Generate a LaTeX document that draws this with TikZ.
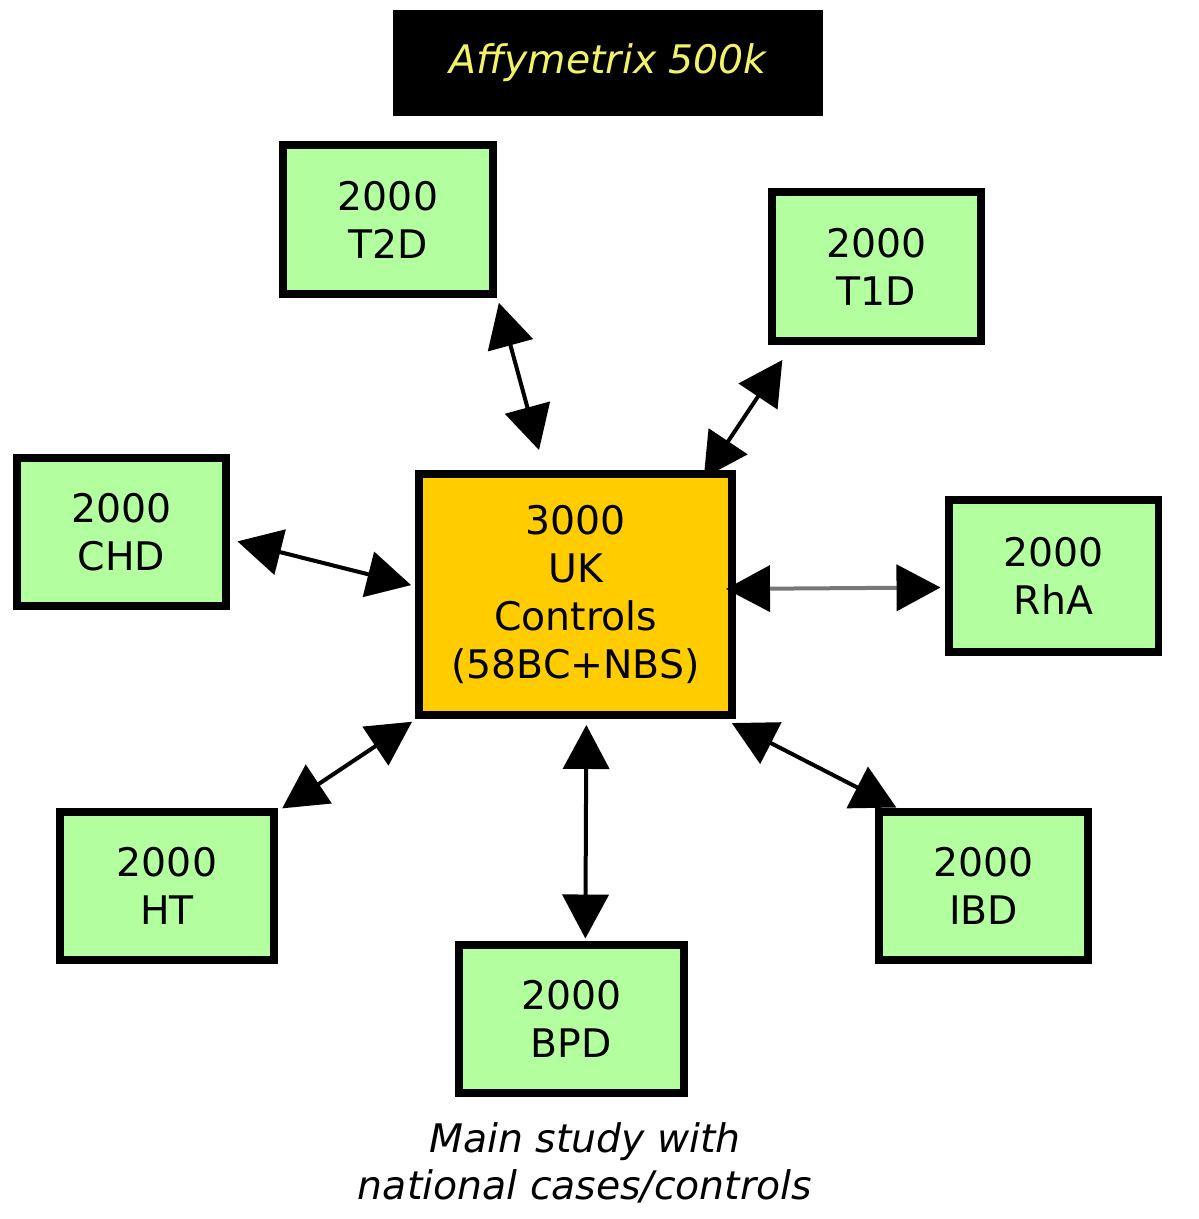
\documentclass[tikz,border=0pt]{standalone}
\usepackage{fontspec}
\setmainfont{DejaVu Sans}
\usepackage{tikz}
\usetikzlibrary{arrows.meta}
\definecolor{CaseGreen}{HTML}{B3FF9F}
\definecolor{CtrlGold}{HTML}{FFCC00}
\definecolor{TitleYellow}{HTML}{F2F266}
\definecolor{LinkGray}{HTML}{777777}

\begin{document}
\begin{tikzpicture}[
  x=0.02cm, y=-0.02cm,
  font=\fontsize{22.4}{27.3}\selectfont,
  % case cohort box
  cbox/.style={draw=black, fill=CaseGreen, line width=0.16cm,
               minimum width=4.2cm, minimum height=2.98cm,
               align=center, inner sep=0pt},
  % shared control box
  ctrlbox/.style={cbox, fill=CtrlGold,
                  minimum width=6.26cm, minimum height=4.82cm},
  % title banner
  banner/.style={fill=black, text=TitleYellow, font=\fontsize{22.4}{27.3}\selectfont\itshape,
                 minimum width=8.6cm, minimum height=2.12cm, inner sep=0pt},
  % double headed link
  link/.style={line width=0.08cm,
               {Triangle[length=0.88cm,width=0.92cm]}-{Triangle[length=0.88cm,width=0.92cm]}},
]
\useasboundingbox (0,0) rectangle (1198,1219);

%% ── Title ────────────────────────────────────────────────────────────────
\node[banner] (title) at (608,63) {Affymetrix 500k};

%% ── Controls ─────────────────────────────────────────────────────────────
\node[ctrlbox] (ctrl) at (575.5,594.5) {3000\\UK\\Controls\\(58BC+NBS)};

%% ── Case cohorts ─────────────────────────────────────────────────────────
\node[cbox] (t2d) at (388,219.5)   {2000\\T2D};
\node[cbox] (t1d) at (876.5,266.5) {2000\\T1D};
\node[cbox] (chd) at (121.5,532)   {2000\\CHD};
\node[cbox, minimum height=3.04cm] (rha) at (1053.5,576) {2000\\RhA};
\node[cbox, minimum width=4.28cm] (ht) at (167,886) {2000\\HT};
\node[cbox] (ibd) at (983.5,886)   {2000\\IBD};
\node[cbox, minimum width=4.5cm] (bpd) at (571.5,1019) {2000\\BPD};

%% ── Links ────────────────────────────────────────────────────────────────
\draw[link, shorten <=0.145cm, shorten >=0.414cm] (t2d.-35.6) -- (ctrl.104);
\draw[link, shorten <=0.36cm, shorten >=-0.19cm] (t1d.-137.8) -- (ctrl.43.4);
\draw[link, shorten <=0.144cm, shorten >=0.082cm] (chd.-4.3) -- (ctrl.177);
\draw[link, draw=LinkGray, arrows={{Triangle[length=0.88cm,width=0.92cm,color=black]}-{Triangle[length=0.88cm,width=0.92cm,color=black]}},
      shorten <=-0.2cm, shorten >=0.08cm] (ctrl.2.7) -- (rha.-174.3);
\draw[link, shorten <=0.1cm, shorten >=0.1cm] (ht.34.5) -- (ctrl.-142.7);
\draw[link, shorten <=0.12cm, shorten >=0.04cm] (ctrl.-85.6) -- (bpd.80.3);
\draw[link, shorten <=0.178cm] (ctrl.-40.9) -- (ibd.138.6);

%% ── Caption ──────────────────────────────────────────────────────────────
\node[align=center, font=\fontsize{22.4}{26.7}\selectfont\itshape] (caption) at (585,1163)
  {Main study with\\national cases/controls};

\end{tikzpicture}
\end{document}
